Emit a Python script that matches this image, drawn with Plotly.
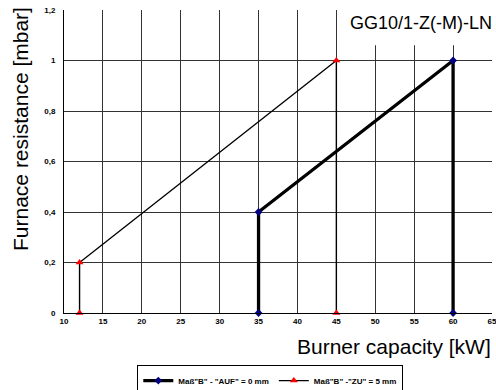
import plotly.graph_objects as go

# Data
auf_x = [35, 35, 60, 60]
auf_y = [0, 0.4, 1.0, 0]
zu_x = [12, 12, 45, 45]
zu_y = [0, 0.2, 1.0, 0]
auf_name = 'Maß"B" - "AUF" = 0 mm'
zu_name = 'Maß"B" -"ZU" = 5 mm'
chart_title = "GG10/1-Z(-M)-LN"
x_title = "Burner capacity [kW]"
y_title = "Furnace resistance [mbar]"

FONT = "Liberation Sans, Arial, sans-serif"

fig = go.Figure()
fig.add_trace(go.Scatter(
    x=auf_x, y=auf_y, name=auf_name, mode="lines+markers",
    line=dict(color="black", width=3.3),
    marker=dict(symbol="diamond", size=6, color="#000080"),
    cliponaxis=False,
))
fig.add_trace(go.Scatter(
    x=zu_x, y=zu_y, name=zu_name, mode="lines+markers",
    line=dict(color="black", width=1.4),
    marker=dict(symbol="triangle-up", size=7, color="#ff0000"),
    cliponaxis=False,
))

fig.update_layout(
    width=496, height=390,
    margin=dict(l=64, r=4, t=10, b=77, autoexpand=False),
    paper_bgcolor="white", plot_bgcolor="white",
    font=dict(family=FONT, color="black"),
    separators=",.",
    showlegend=True,
    legend=dict(
        orientation="h", x=0.482, xanchor="center", y=-0.172, yanchor="top",
        bordercolor="black", borderwidth=1, bgcolor="white",
        font=dict(family=FONT, size=8, color="black", weight="bold"),
        itemwidth=30, tracegroupgap=0,
    ),
    xaxis=dict(
        range=[10, 65.0001], dtick=5, tick0=10, showgrid=True, gridcolor="#333", gridwidth=1,
        showline=True, linecolor="black", linewidth=1, mirror=False, ticks="",
        tickfont=dict(family=FONT, size=8, color="black", weight="bold"),
        zeroline=False, fixedrange=True, ticklabeloverflow="allow",
    ),
    yaxis=dict(
        range=[0, 1.2], dtick=0.2, tick0=0, showgrid=True, gridcolor="#333", gridwidth=1,
        showline=True, linecolor="black", linewidth=1, ticks="",
        tickfont=dict(family=FONT, size=8, color="black", weight="bold"),
        zeroline=False, fixedrange=True, ticklabelstandoff=6,
    ),
    shapes=[
        dict(type="rect", xref="x", yref="y", x0=45.15, x1=65.0001, y0=1.06, y1=1.2,
             fillcolor="white", line=dict(width=0), layer="between"),
    ],
    annotations=[
        dict(text=chart_title, xref="paper", yref="y", x=1.005, y=1.149,
             xanchor="right", yanchor="middle", showarrow=False,
             font=dict(family=FONT, size=18, color="black")),
        dict(text=x_title, xref="paper", yref="paper", x=1.003, y=-0.109,
             xanchor="right", yanchor="middle", showarrow=False,
             font=dict(family=FONT, size=21, color="black")),
        dict(text=y_title, xref="paper", yref="paper", x=-0.103, y=0.607,
             xanchor="center", yanchor="middle", showarrow=False, textangle=-90,
             font=dict(family=FONT, size=21, color="black")),
    ],
)

fig.write_html("out.html", config={"displayModeBar": False},
               post_script="document.body.style.margin='0';document.body.style.padding='0';")
